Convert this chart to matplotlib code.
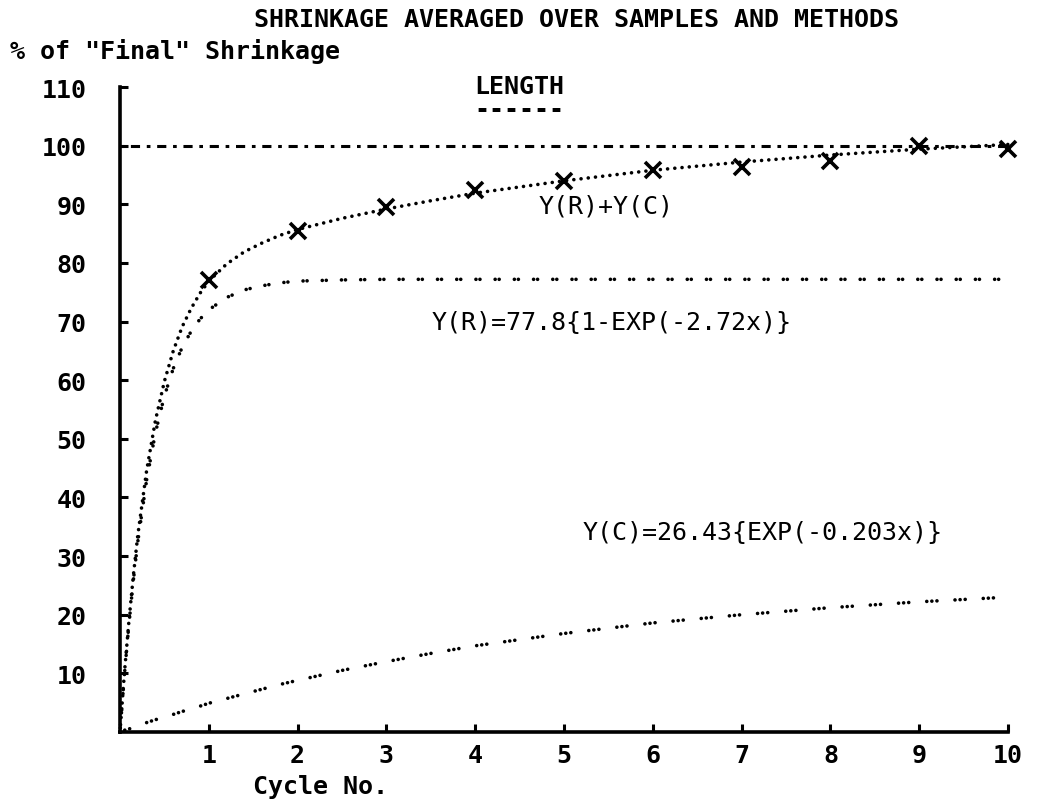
import numpy as np
import matplotlib
matplotlib.use("Agg")
import matplotlib.pyplot as plt

# values
cycles = [0, 0.05, 0.1, 0.15, 0.2, 0.3, 0.4, 0.5, 0.6, 0.7, 0.8, 0.9, 1.0,
          1.2, 1.4, 1.6, 1.8, 2.0, 2.5, 3, 3.5, 4, 5, 6, 7, 8, 9, 10]
y_r = [0, 9.8, 18.3, 25.8, 32.4, 43.0, 51.1, 57.3, 62.0, 65.6, 68.3, 70.4, 72.0,
       74.1, 75.4, 76.1, 76.6, 76.9, 77.1, 77.2, 77.2, 77.2, 77.2, 77.2, 77.2, 77.2, 77.2, 77.2]
y_c = [0, 0.3, 0.5, 0.8, 1.1, 1.6, 2.1, 2.5, 3.0, 3.5, 3.9, 4.4, 4.9,
       5.7, 6.5, 7.3, 8.1, 8.8, 10.5, 12.0, 13.4, 14.7, 16.8, 18.6, 20.0, 21.2, 22.2, 23.0]
pt_cycles = [1, 2, 3, 4, 5, 6, 7, 8, 9, 10]
pt_shrink = [77.0, 85.5, 89.6, 92.5, 94.0, 95.8, 96.4, 97.3, 100.0, 99.4]
final_level = 100

x = np.array(cycles)
yr = np.array(y_r)
yc = np.array(y_c)
ysum = yr + yc

mono = "DejaVu Sans Mono"
plt.rcParams['font.family'] = mono

fig = plt.figure(figsize=(10.38, 8.03), dpi=100)
ax = fig.add_axes([0.1156, 0.0872, 0.8555, 0.8032])

ax.plot([0, 10], [final_level, final_level], color="black", lw=2.2,
        dashes=(1.2, 2.2, 3.0, 2.2), clip_on=False)
ax.plot(x, ysum, color="black", lw=2.6, dashes=(0.01, 2.0),
        dash_capstyle="round", clip_on=False)
ax.plot(x, yr, color="black", lw=2.6, dashes=(0.01, 1.1, 0.01, 4.2),
        dash_capstyle="round", clip_on=False)
ax.plot(x, yc, color="black", lw=2.6, dashes=(0.01, 1.4, 0.01, 1.4, 0.01, 5.0),
        dash_capstyle="round", clip_on=False)
ax.plot(pt_cycles, pt_shrink, ls="none", marker="x", ms=11, mew=2.6,
        color="black", clip_on=False)

ax.set_xlim(0, 10)
ax.set_ylim(0, 110)
for s in ["top", "right"]:
    ax.spines[s].set_visible(False)
for s in ["left", "bottom"]:
    ax.spines[s].set_linewidth(2.6)

ax.set_xticks(range(1, 11))
ax.set_yticks(range(10, 111, 10))
ax.tick_params(axis="x", direction="in", length=6, width=2.2, pad=8,
               labelsize=18)
ax.tick_params(axis="y", direction="in", length=6, width=2.2, pad=24,
               labelsize=18)
for lab in ax.get_xticklabels() + ax.get_yticklabels():
    lab.set_fontweight("bold")

fig.text(577 / 1038, 1 - 20 / 803, "SHRINKAGE AVERAGED OVER SAMPLES AND METHODS",
         ha="center", va="center", fontsize=18, fontweight="bold")
fig.text(10 / 1038, 1 - 52 / 803, '% of "Final" Shrinkage',
         ha="left", va="center", fontsize=18, fontweight="bold")
fig.text(253 / 1038, 1 - 787 / 803, "Cycle No.",
         ha="left", va="center", fontsize=18, fontweight="bold")

ax.text(4.5, 110.2, "LENGTH", ha="center", va="center", fontsize=18,
        fontweight="bold", clip_on=False)
ax.text(4.5, 106.3, "------", ha="center", va="center", fontsize=18,
        fontweight="bold", clip_on=False)
ax.text(4.71, 89.8, "Y(R)+Y(C)", ha="left", va="center", fontsize=18)
ax.text(3.51, 70.0, "Y(R)=77.8{1-EXP(-2.72x)}", ha="left", va="center", fontsize=18)
ax.text(5.21, 34.1, "Y(C)=26.43{EXP(-0.203x)}", ha="left", va="center", fontsize=18)

fig.savefig("out.png", dpi=100)
